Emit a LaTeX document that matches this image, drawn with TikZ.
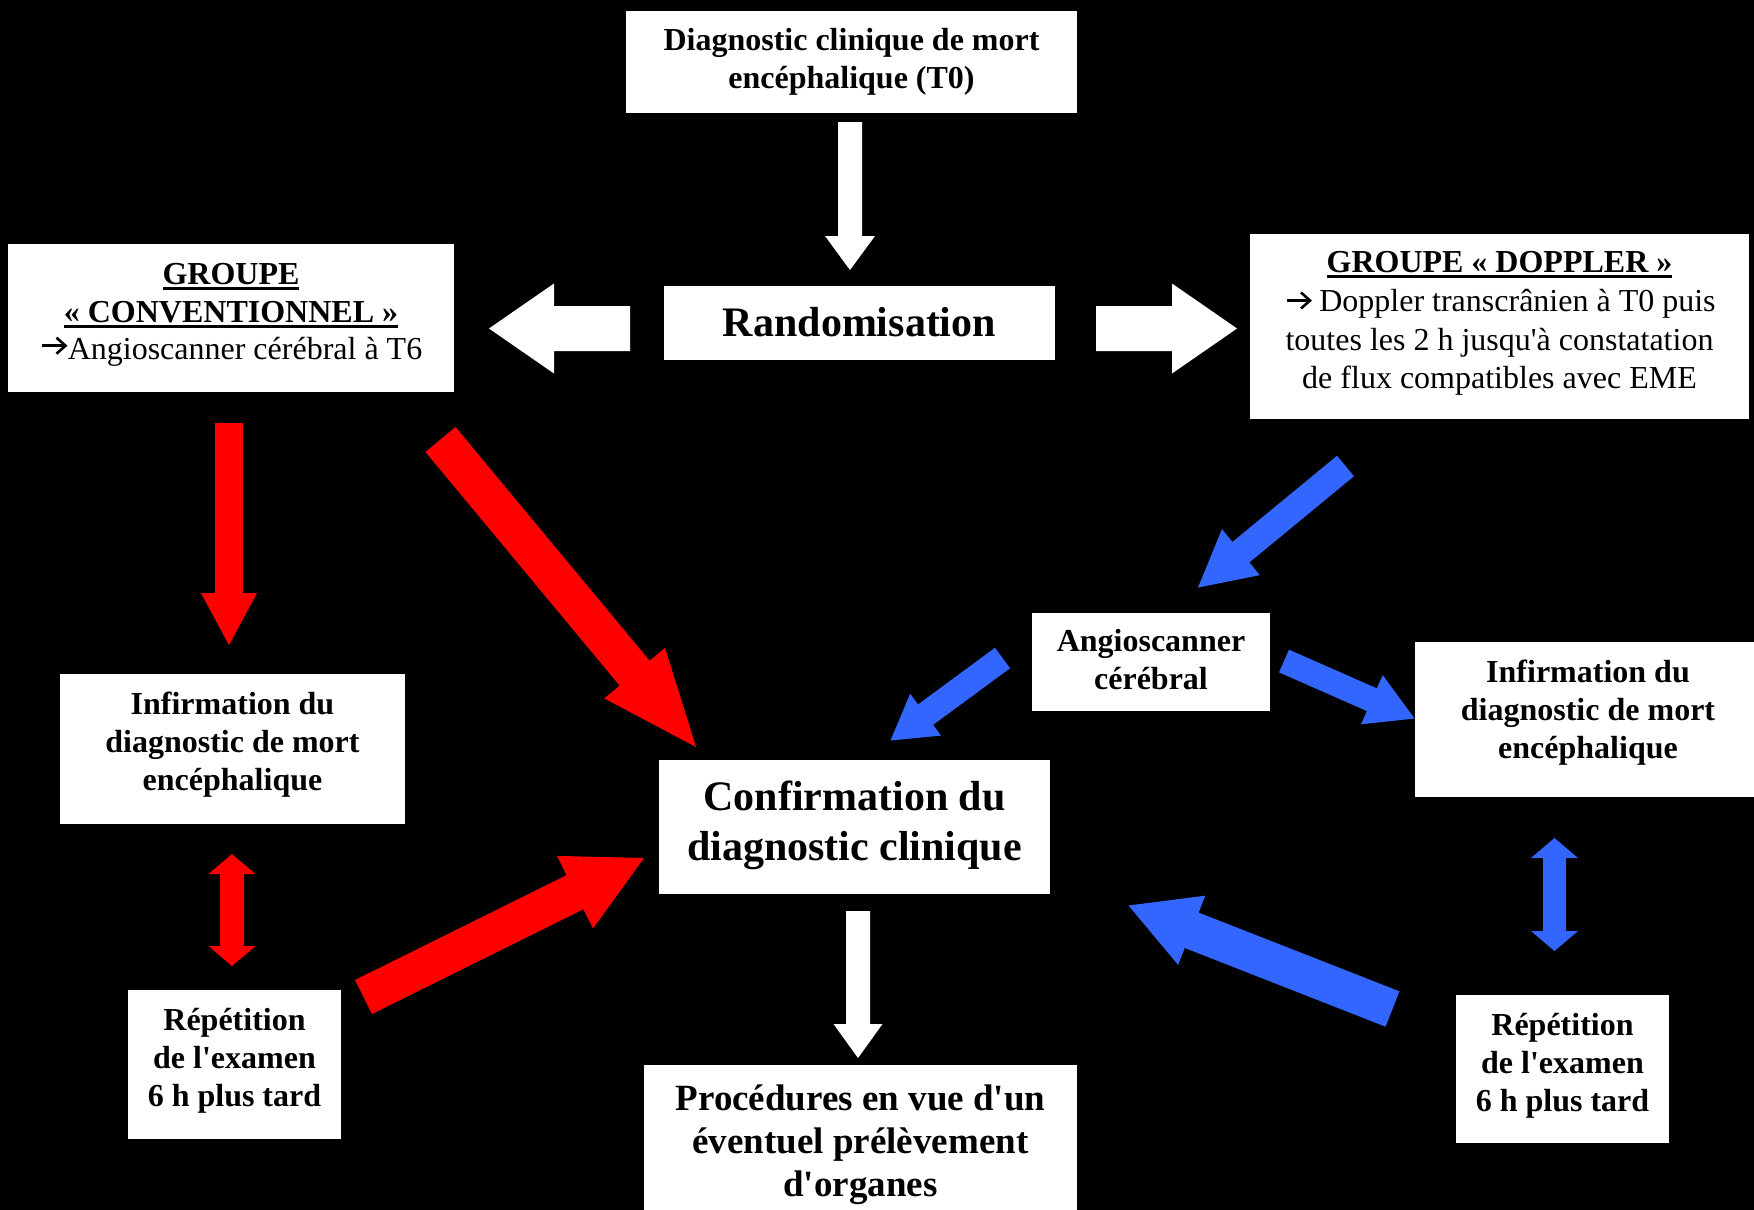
\documentclass[tikz,border=0pt]{standalone}
\usepackage{fontspec}
\setmainfont{Liberation Serif}
\usetikzlibrary{calc}
\definecolor{arrred}{HTML}{FF0000}
\definecolor{arrblue}{HTML}{3366FF}
\newsavebox\ulbox
\newcommand\ulx[1]{\sbox\ulbox{#1}\rlap{\rule[-5.5pt]{\wd\ulbox}{3pt}}\usebox\ulbox}
% #1 colour, #2 tail, #3 tip, #4 half shaft width, #5 half head width, #6 head length
\newcommand\blockarrow[6]{%
  \coordinate (ba-h) at ($(#3)!#6pt!(#2)$);
  \fill[#1] ($(#2)!#4pt!90:(#3)$) -- ($(ba-h)!#4pt!90:(#3)$) -- ($(ba-h)!#5pt!90:(#3)$) -- (#3)
     -- ($(ba-h)!#5pt!-90:(#3)$) -- ($(ba-h)!#4pt!-90:(#3)$) -- ($(#2)!#4pt!-90:(#3)$) -- cycle;
}
% double-headed block arrow between #2 and #3
\newcommand\dblarrow[6]{%
  \coordinate (da-a) at ($(#2)!#6pt!(#3)$);
  \coordinate (da-b) at ($(#3)!#6pt!(#2)$);
  \fill[#1] (#2) -- ($(da-a)!#5pt!90:(#3)$) -- ($(da-a)!#4pt!90:(#3)$) -- ($(da-b)!#4pt!-90:(#2)$)
     -- ($(da-b)!#5pt!-90:(#2)$) -- (#3) -- ($(da-b)!#5pt!90:(#2)$) -- ($(da-b)!#4pt!90:(#2)$)
     -- ($(da-a)!#4pt!-90:(#3)$) -- ($(da-a)!#5pt!-90:(#3)$) -- cycle;
}
% small text arrow glyph: #1 = left x, #2 = centre y
\newcommand\textarrow[2]{%
  \draw[black, line width=2.6pt] ($(#1,#2)+(2.5,0)$) -- ($(#1,#2)+(25,0)$);
  \draw[black, line width=2.6pt, line join=miter] ($(#1,#2)+(17,-8)$) -- ($(#1,#2)+(26,0)$) -- ($(#1,#2)+(17,8)$);
}
\begin{document}
\begin{tikzpicture}[x=1pt,y=-1pt,
  box/.style={fill=white, inner sep=0pt, outer sep=0pt},
  txt/.style={align=center, inner sep=0pt, text=black},
  bt/.style={txt, font=\fontsize{32}{38}\selectfont\bfseries},
  rt/.style={txt, font=\fontsize{32}{38.8}\selectfont}]
\useasboundingbox (0,0) rectangle (1754,1210);
\clip (0,0) rectangle (1754,1210);
\fill[black] (0,0) rectangle (1754,1210);

% boxes
\node[box, minimum width=451pt, minimum height=102pt] (top) at (851.5,62) {};
\node[box, minimum width=391pt, minimum height=74pt] (rand) at (859.5,323) {};
\node[box, minimum width=446pt, minimum height=148pt] (conv) at (231,318) {};
\node[box, minimum width=499pt, minimum height=185pt] (dopp) at (1499.5,326.5) {};
\node[box, minimum width=345pt, minimum height=150pt] (infL) at (232.5,749) {};
\node[box, minimum width=213pt, minimum height=149pt] (repL) at (234.5,1064.5) {};
\node[box, minimum width=391pt, minimum height=134pt] (conf) at (854.5,827) {};
\node[box, minimum width=433pt, minimum height=165pt] (proc) at (860.5,1147.5) {};
\node[box, minimum width=238pt, minimum height=98pt] (angio) at (1151,662) {};
\node[box, minimum width=346pt, minimum height=155pt] (infR) at (1588,719.5) {};
\node[box, minimum width=213pt, minimum height=148pt] (repR) at (1562.5,1069) {};

% texts
\node[bt, font=\fontsize{32}{38.6}\selectfont\bfseries] (top-t) at (851.5,62) {Diagnostic clinique de mort\\encéphalique (T0)};
\node[txt, font=\fontsize{42}{50}\selectfont\bfseries] (rand-t) at (859.5,322) {Randomisation};
\node[rt, font=\fontsize{32}{37.6}\selectfont] (conv-t) at (231,315) {\textbf{\ulx{GROUPE}}\\\textbf{\ulx{« CONVENTIONNEL »}}\\\hspace*{28pt}Angioscanner cérébral à T6};
\node[rt] (dopp-t) at (1499.5,323.5) {\textbf{\ulx{GROUPE « DOPPLER »}}\\\hspace*{28pt}\ Doppler transcrânien à T0 puis\\toutes les 2 h jusqu\textquotesingle à constatation\\de flux compatibles avec EME};
\node[bt] (infL-t) at (232.5,745) {Infirmation du\\diagnostic de mort\\encéphalique};
\node[bt] (repL-t) at (234.5,1061) {Répétition\\de l\textquotesingle examen\\6 h plus tard};
\node[txt, font=\fontsize{42}{50}\selectfont\bfseries] (conf-t) at (854.5,825.5) {Confirmation du\\diagnostic clinique};
\node[txt, font=\fontsize{37}{43}\selectfont\bfseries] (proc-t) at (860.5,1145) {Procédures en vue d\textquotesingle un\\éventuel prélèvement\\d\textquotesingle organes};
\node[bt] (angio-t) at (1151,660) {Angioscanner\\cérébral};
\node[bt] (infR-t) at (1588,713) {Infirmation du\\diagnostic de mort\\encéphalique};
\node[bt] (repR-t) at (1562.5,1065.4) {Répétition\\de l\textquotesingle examen\\6 h plus tard};

% arrow glyphs in the group texts
\textarrow{39.5}{345.7}
\textarrow{1284}{300.5}

% arrow end points
\coordinate (a1s) at (850,122);    \coordinate (a1e) at (850,270);
\coordinate (a2s) at (630,328.5);  \coordinate (a2e) at (489,328.5);
\coordinate (a3s) at (1096,328.5); \coordinate (a3e) at (1237,328.5);
\coordinate (a4s) at (858,911);    \coordinate (a4e) at (858,1058);
\coordinate (r1s) at (229,423);    \coordinate (r1e) at (229,645);
\coordinate (r2s) at (440.5,439.5);\coordinate (r2e) at (696,747);
\coordinate (r3a) at (232,854);    \coordinate (r3b) at (232,966);
\coordinate (r4s) at (363.5,997);  \coordinate (r4e) at (644,858);
\coordinate (b1s) at (1345.5,466); \coordinate (b1e) at (1198,587.5);
\coordinate (b2s) at (1002.5,658); \coordinate (b2e) at (890.5,740.5);
\coordinate (b3s) at (1284,661);   \coordinate (b3e) at (1414.5,718.5);
\coordinate (b4a) at (1554.5,838); \coordinate (b4b) at (1554.5,951);
\coordinate (b5s) at (1392.5,1009);\coordinate (b5e) at (1128.5,905.5);

% white arrows
\blockarrow{white}{a1s}{a1e}{12}{25}{34}
\blockarrow{white}{a2s}{a2e}{22.5}{45}{65}
\blockarrow{white}{a3s}{a3e}{22.5}{45}{65}
\blockarrow{white}{a4s}{a4e}{12}{24.5}{34}
% red arrows
\blockarrow{arrred}{r1s}{r1e}{14}{28}{52}
\blockarrow{arrred}{r2s}{r2e}{19.5}{39.5}{96}
\dblarrow{arrred}{r3a}{r3b}{12}{23.5}{20}
\blockarrow{arrred}{r4s}{r4e}{19}{40.5}{77}
% blue arrows
\blockarrow{arrblue}{b1s}{b1e}{13.3}{29.8}{55.6}
\blockarrow{arrblue}{b2s}{b2e}{12.7}{26}{43.6}
\blockarrow{arrblue}{b3s}{b3e}{12.4}{26.9}{46.6}
\dblarrow{arrblue}{b4a}{b4b}{11.5}{23.5}{20}
\blockarrow{arrblue}{b5s}{b5e}{19}{37.2}{67.9}
\end{tikzpicture}
\end{document}
